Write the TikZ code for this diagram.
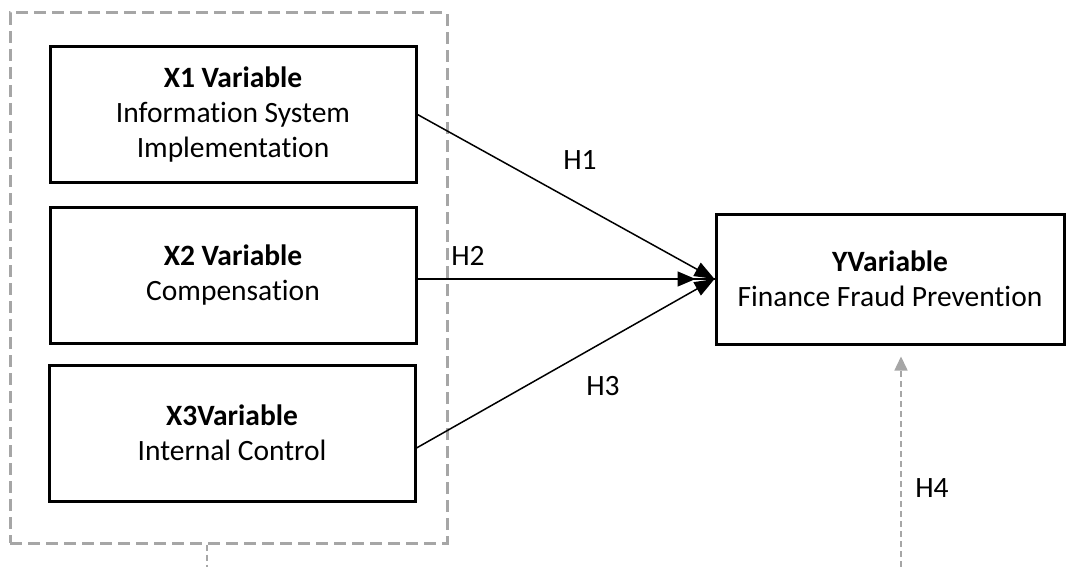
\documentclass[tikz,border=0pt]{standalone}
\usepackage{fontspec}
\setmainfont{Carlito}[Ligatures=NoCommon]
\usetikzlibrary{positioning,arrows.meta,decorations.markings}

\begin{document}
\begin{tikzpicture}[
    x=1pt, y=-1pt,
    every node/.style={font=\fontsize{29.5}{35}\selectfont},
    varbox/.style={draw, line width=3pt, align=center, inner sep=0pt, minimum width=366pt, minimum height=136pt},
    link/.style={line width=1.5pt, -{Triangle[length=20pt,width=15pt]}},
    groupbox/.style={draw=black!35, line width=3pt, dash pattern=on 12pt off 6pt, inner sep=0pt, minimum width=437pt, minimum height=530pt},
    greydash/.style={draw=black!35, line width=1.5pt, dash pattern=on 6pt off 4pt}
]
    \useasboundingbox (0,0) rectangle (1070,567);

    % independent variables
    \node [groupbox] (grp) at (228.5,278) {};
    \node [varbox] (x1) at (233,114.5) {\textbf{X1 Variable}\\Information System\\Implementation};
    \node [varbox] (x2) at (233,275) {\textbf{X2 Variable}\\Compensation};
    \node [varbox] (x3) at (232,433) {\textbf{X3Variable}\\Internal Control};

    % dependent variable
    \node [varbox, minimum width=348pt, minimum height=130pt] (yv) at (890,279) {\textbf{YVariable}\\Finance Fraud Prevention};

    \draw [link] (x1.east) -- (yv.west);
    \draw [line width=1.5pt, postaction={decorate},
        decoration={markings, mark=at position -19pt with {\arrow{Triangle[length=18pt,width=15pt]}}}]
        ([yshift=-4pt]x2.east) -- (yv.west);
    \draw [link] ([yshift=-15pt]x3.east) -- (yv.west);

    \node (h1) at (580,160) {H1};
    \node (h2) at (468,256) {H2};
    \node (h3) at (603,386) {H3};
    \node (h4) at (932,488) {H4};

    % moderating link
    \coordinate (grpfoot) at (207,567);
    \coordinate (h4foot) at (901,567);
    \draw [greydash] (grpfoot |- grp.south) -- (grpfoot);
    \draw [greydash, -{Triangle[length=14pt,width=13pt]}, shorten >=11pt] (h4foot) -- (h4foot |- yv.south);
\end{tikzpicture}
\end{document}
